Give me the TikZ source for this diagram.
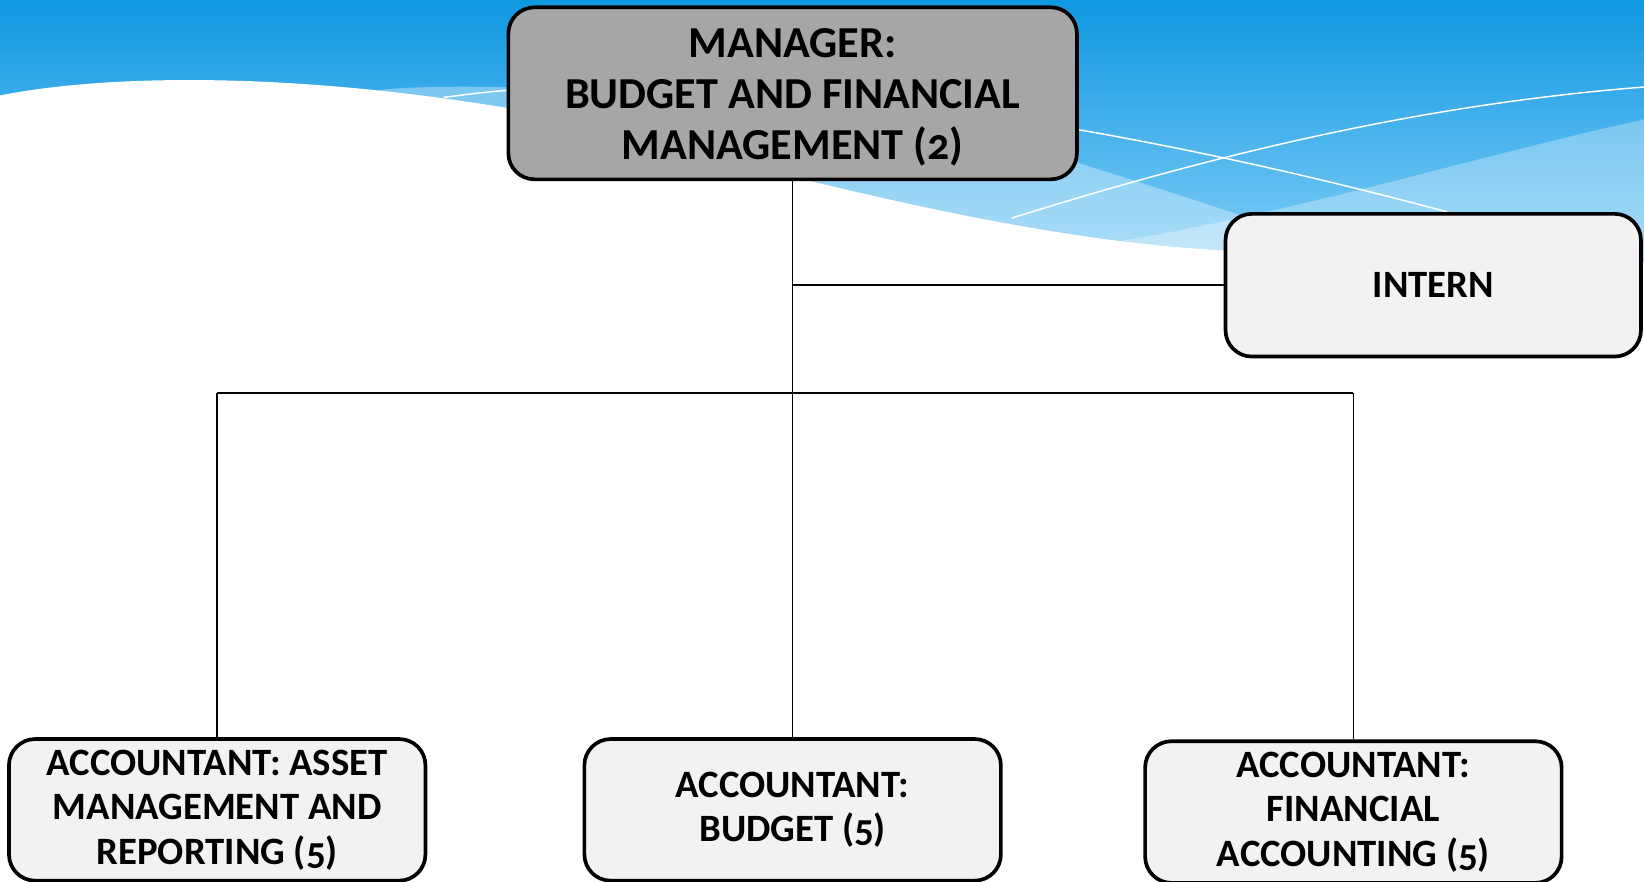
\documentclass[tikz,border=0pt]{standalone}
\usepackage{fontspec}
\setmainfont{Carlito}[Numbers=OldStyle]
\usetikzlibrary{positioning}

\definecolor{skytop}{RGB}{16,152,226}
\definecolor{skybot}{RGB}{128,205,246}
\definecolor{bossgray}{RGB}{166,166,166}
\definecolor{staffgray}{RGB}{242,242,242}

\begin{document}
\begin{tikzpicture}[x=0.01cm,y=-0.01cm,
		box/.style={draw=black,line width=1pt,rounded corners=0.25cm,align=center,inner sep=0pt,
			font=\fontsize{10.5}{12.1}\selectfont\bfseries},
		boss/.style={box,fill=bossgray,minimum width=5.42cm,minimum height=1.64cm,
			font=\fontsize{12}{13.9}\selectfont\bfseries},
		staff/.style={box,fill=staffgray,minimum width=3.97cm,minimum height=1.35cm},
		wire/.style={line width=0.45pt},
		wave/.style={white,line width=0.4pt}]
		\useasboundingbox (0,0) rectangle (1568,841);
		% sky and waves
		\shade[top color=skytop,bottom color=skybot] (0,0) rectangle (1568,250);
		\fill[white,opacity=0.35] (360,86) .. controls (450,75) and (800,90) .. (1021,153)
			.. controls (1100,178) and (1200,210) .. (1300,245) -- (1300,320) -- (360,320) -- cycle;
		\fill[white,opacity=0.3] (1000,240) .. controls (1200,215) and (1400,150) .. (1568,114)
			-- (1568,320) -- (1000,320) -- cycle;
		\draw[wave] (423,93) .. controls (650,60) and (1000,100) .. (1380,202);
		\draw[wave] (965,208) .. controls (1150,150) and (1350,100) .. (1568,83);
		\fill[white] (0,91) .. controls (90,73) and (260,66) .. (484,103)
			.. controls (650,135) and (950,235) .. (1200,240)
			.. controls (1400,245) and (1500,250) .. (1568,260) -- (1568,841) -- (0,841) -- cycle;
		% chart
		\node[boss] (mgr) at (756,89) {\rule{0pt}{10pt}MANAGER:\\BUDGET AND FINANCIAL\\MANAGEMENT (2)};
		\node[staff,minimum width=3.96cm,minimum height=1.36cm] (int) at (1367,272) {INTERN};
		\node[staff] [below=5.30cm of mgr] (acc_2) {ACCOUNTANT:\\BUDGET (5)};
		\node[staff] [left=1.48cm of acc_2] (acc_1) {ACCOUNTANT: ASSET\\MANAGEMENT AND\\REPORTING (5)};
		\node[staff] [right=1.34cm of acc_2,yshift=-0.6pt] (acc_3) {ACCOUNTANT:\\FINANCIAL\\ACCOUNTING (5)};
		\coordinate (bus) at (756,375);
		\path[wire]
			(mgr) edge (acc_2)
			(mgr.south |- int.west) edge (int.west)
			(acc_1.north |- bus) edge (acc_3.north |- bus)
			(acc_1.north |- bus) edge (acc_1.north)
			(acc_3.north |- bus) edge (acc_3.north);
	\end{tikzpicture}
\end{document}
